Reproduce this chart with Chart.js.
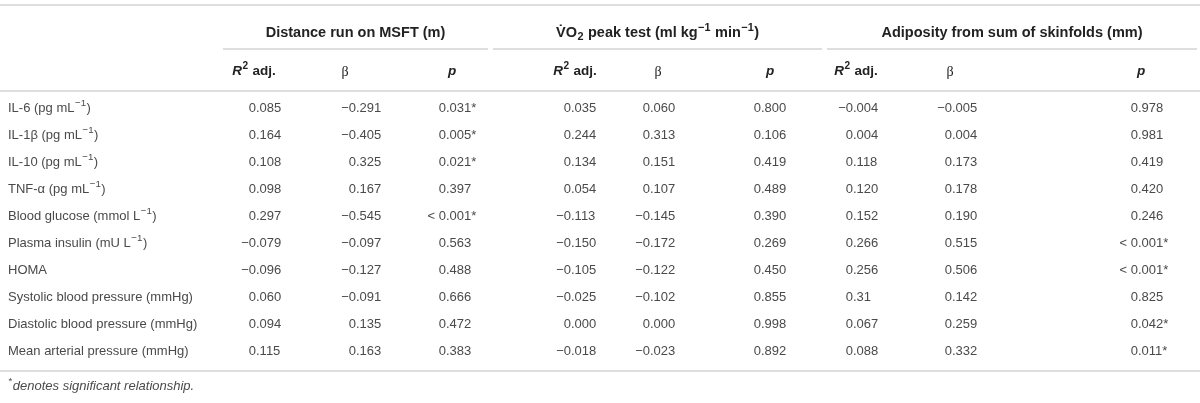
<!DOCTYPE html>
<html>
<head>
<meta charset="utf-8">
<script src="https://cdn.jsdelivr.net/npm/chart.js@4.4.1/dist/chart.umd.min.js"></script>
<style>
html, body { margin: 0; padding: 0; background: #fff; }
#wrap { width: 1200px; height: 403px; }
</style>
</head>
<body>
<div id="wrap"><canvas id="tbl" width="1200" height="403"></canvas></div>
<script>
// rows of the table (^{..} superscript, _{..} subscript, *..* italic)
const rows = [
    'IL-6 (pg mL^{−1})',
    'IL-1β (pg mL^{−1})',
    'IL-10 (pg mL^{−1})',
    'TNF-α (pg mL^{−1})',
    'Blood glucose (mmol L^{−1})',
    'Plasma insulin (mU L^{−1})',
    'HOMA',
    'Systolic blood pressure (mmHg)',
    'Diastolic blood pressure (mmHg)',
    'Mean arterial pressure (mmHg)'
];

const groups = [
    'Distance run on MSFT (m)',
    'V\u0307O_{2} peak test (ml kg^{−1} min^{−1})',
    'Adiposity from sum of skinfolds (mm)'
];
const subheads = ['*R*^{2} adj.', 'β', '*p*'];

// distance run on MSFT
const r2_msft   = ['0.085', '0.164', '0.108', '0.098', '0.297', '−0.079', '−0.096', '0.060', '0.094', '0.115'];
const beta_msft = ['−0.291', '−0.405', '0.325', '0.167', '−0.545', '−0.097', '−0.127', '−0.091', '0.135', '0.163'];
const p_msft    = ['0.031*', '0.005*', '0.021*', '0.397', '< 0.001*', '0.563', '0.488', '0.666', '0.472', '0.383'];
// VO2 peak test
const r2_vo2    = ['0.035', '0.244', '0.134', '0.054', '−0.113', '−0.150', '−0.105', '−0.025', '0.000', '−0.018'];
const beta_vo2  = ['0.060', '0.313', '0.151', '0.107', '−0.145', '−0.172', '−0.122', '−0.102', '0.000', '−0.023'];
const p_vo2     = ['0.800', '0.106', '0.419', '0.489', '0.390', '0.269', '0.450', '0.855', '0.998', '0.892'];
// adiposity
const r2_adip   = ['−0.004', '0.004', '0.118', '0.120', '0.152', '0.266', '0.256', '0.31', '0.067', '0.088'];
const beta_adip = ['−0.005', '0.004', '0.173', '0.178', '0.190', '0.515', '0.506', '0.142', '0.259', '0.332'];
const p_adip    = ['0.978', '0.981', '0.419', '0.420', '0.246', '< 0.001*', '< 0.001*', '0.825', '0.042*', '0.011*'];

const footnote = '^{*}*denotes significant relationship.*';

const columns = [r2_msft, beta_msft, p_msft, r2_vo2, beta_vo2, p_vo2, r2_adip, beta_adip, p_adip];

// layout (x in scale units = pixels)
const colAnchor = [256, 356, 446, 571, 650, 761, 853, 952, 1138];
const headCenter = [254, 345, 452, 575, 658, 770, 856, 950, 1141];
const groupSpan = [[223, 488], [493, 822], [827, 1197]];
const FONT = '"Liberation Sans", Arial, sans-serif';
const SERIF = '"Liberation Serif", serif';
const SIZE = 13;
const GSIZE = 14.5;
const TXT = '#4a4a4a';
const HEAD = '#222';
const RULE = '#dedede';

// tiny markup parser -> runs
function parseRich(s) {
    const runs = [];
    let i = 0, italic = false, buf = '';
    const push = (t, pos) => { if (t) runs.push({ t: t, pos: pos, italic: italic }); };
    while (i < s.length) {
        const c = s[i];
        if ((c === '^' || c === '_') && s[i + 1] === '{') {
            push(buf, 0); buf = '';
            const end = s.indexOf('}', i);
            push(s.slice(i + 2, end), c === '^' ? 1 : -1);
            i = end + 1;
        } else if (c === '*') {
            push(buf, 0); buf = '';
            italic = !italic;
            i++;
        } else {
            buf += c; i++;
        }
    }
    push(buf, 0);
    return runs;
}

function runFont(r, bold, size) {
    const sz = r.pos ? size * 0.75 : size;
    return (r.italic ? 'italic ' : '') + (bold ? 'bold ' : '') + sz + 'px ' + FONT;
}

function drawRich(ctx, s, x, y, align, bold, color, size) {
    size = size || SIZE;
    const runs = parseRich(s);
    let w = 0;
    runs.forEach(r => {
        ctx.font = runFont(r, bold, size);
        r.w = ctx.measureText(r.t).width + (r.pos ? 1 : 0);
        w += r.w;
    });
    let cx = align === 'center' ? x - w / 2 : (align === 'right' ? x - w : x);
    ctx.fillStyle = color;
    ctx.textAlign = 'left';
    ctx.textBaseline = 'middle';
    runs.forEach(r => {
        ctx.font = runFont(r, bold, size);
        const dy = r.pos === 1 ? -size * 0.33 : (r.pos === -1 ? size * 0.3 : 0);
        ctx.fillText(r.t, cx + (r.pos ? 0.5 : 0), y + dy);
        cx += r.w;
    });
}

function hline(ctx, x1, x2, y) {
    ctx.strokeStyle = RULE;
    ctx.lineWidth = 2;
    ctx.beginPath();
    ctx.moveTo(x1, y);
    ctx.lineTo(x2, y);
    ctx.stroke();
}

const tablePlugin = {
    id: 'tablePlugin',
    afterDatasetsDraw(chart) {
        const ctx = chart.ctx;
        const xs = chart.scales.x;
        const ys = chart.scales.y;
        ctx.save();

        // rules
        hline(ctx, xs.getPixelForValue(0), xs.getPixelForValue(1200), 5);
        groupSpan.forEach(g => hline(ctx, xs.getPixelForValue(g[0]), xs.getPixelForValue(g[1]), 49));
        hline(ctx, xs.getPixelForValue(0), xs.getPixelForValue(1200), 91);
        hline(ctx, xs.getPixelForValue(0), xs.getPixelForValue(1200), 371);

        // group headers
        groups.forEach((g, k) => {
            const mid = (groupSpan[k][0] + groupSpan[k][1]) / 2;
            drawRich(ctx, g, xs.getPixelForValue(mid), 33, 'center', true, HEAD, GSIZE);
        });
        // sub headers (beta in a serif face like the reference)
        headCenter.forEach((hx, k) => {
            const s = subheads[k % 3];
            if (s === 'β') {
                ctx.font = '14px ' + SERIF;
                ctx.fillStyle = HEAD;
                ctx.textAlign = 'center';
                ctx.textBaseline = 'middle';
                ctx.fillText(s, xs.getPixelForValue(hx), 72);
            } else {
                drawRich(ctx, s, xs.getPixelForValue(hx), 71, 'center', true, HEAD, 13.5);
            }
        });

        // row labels
        rows.forEach((r, i) => drawRich(ctx, r, 8, ys.getPixelForValue(i), 'left', false, TXT));

        // cells, aligned on the decimal point
        ctx.font = SIZE + 'px ' + FONT;
        ctx.fillStyle = TXT;
        ctx.textBaseline = 'middle';
        chart.data.datasets.forEach((ds, k) => {
            const meta = chart.getDatasetMeta(k);
            meta.data.forEach((el, i) => {
                const s = columns[k][i];
                const d = s.indexOf('.');
                ctx.textAlign = 'right';
                ctx.fillText(s.slice(0, d), el.x, el.y);
                ctx.textAlign = 'left';
                ctx.fillText(s.slice(d), el.x, el.y);
            });
        });

        // footnote
        drawRich(ctx, footnote, 8, 386, 'left', false, TXT);
        ctx.restore();
    }
};

new Chart(document.getElementById('tbl'), {
    type: 'scatter',
    data: {
        datasets: columns.map((col, k) => ({
            data: col.map((v, i) => ({ x: colAnchor[k], y: rows[i] })),
            pointRadius: 0,
            pointHoverRadius: 0
        }))
    },
    options: {
        responsive: false,
        animation: false,
        devicePixelRatio: 1,
        layout: { padding: { left: 0, right: 0, top: 94.5, bottom: 38.5 } },
        scales: {
            x: { type: 'linear', min: 0, max: 1200, display: false },
            y: { type: 'category', labels: rows, offset: true, display: false }
        },
        plugins: { legend: { display: false }, tooltip: { enabled: false } }
    },
    plugins: [tablePlugin]
});
</script>
</body>
</html>
